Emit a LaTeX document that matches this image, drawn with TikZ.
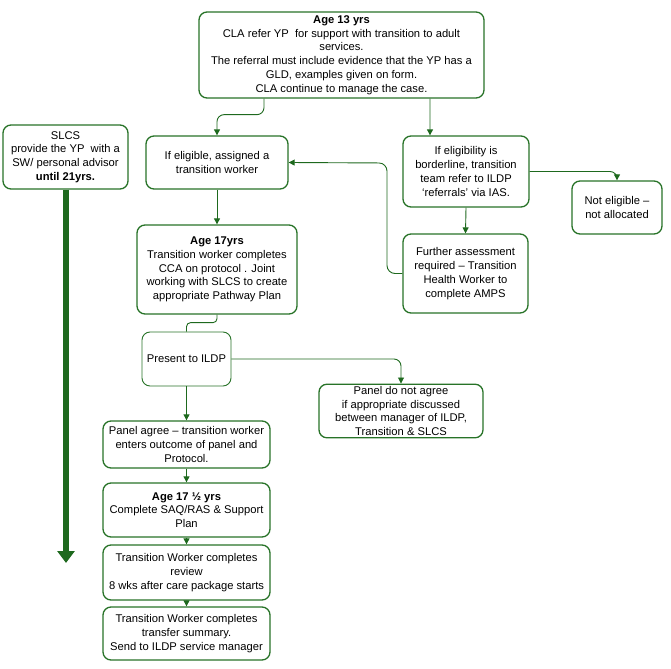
\documentclass[tikz,border=0pt]{standalone}
\usepackage{fontspec}
\setmainfont{Liberation Sans}
\usetikzlibrary{arrows.meta}
\definecolor{boxgreen}{RGB}{40,115,40}
\definecolor{arrgreen}{RGB}{30,105,30}
\tikzset{
  box/.style={draw=boxgreen, line width=1.3bp, rounded corners=8bp, fill=white,
    align=center, inner sep=2bp, font=\fontsize{11.2bp}{13.8bp}\selectfont},
  arr/.style={draw=arrgreen, line width=0.9bp, -{Triangle[width=6bp,length=6bp]}},
  plain/.style={draw=arrgreen, line width=0.9bp},
}
\begin{document}
\begin{tikzpicture}[x=1bp,y=-1bp]
\useasboundingbox (0,0) rectangle (671,669);
\node[box, minimum width=285bp, minimum height=86bp] (top) at (341.5,55)
 {\textbf{Age 13 yrs}\\CLA refer YP\ \ for support with transition to adult\\services.\\The referral must include evidence that the YP has a\\GLD, examples given on form.\\CLA continue to manage the case.};
\node[box, minimum width=125bp, minimum height=64bp] (slcs) at (65.5,157)
 {SLCS\\provide the YP\ \ with a\\SW/ personal advisor\\\textbf{until 21yrs.}};
\node[box, minimum width=142bp, minimum height=53bp] (elig) at (217,162.5)
 {If eligible, assigned a\\transition worker};
\node[box, minimum width=126bp, minimum height=71bp] (border) at (466,171.5)
 {If eligibility is\\borderline, transition\\team refer to ILDP\\`referrals' via IAS.};
\node[box, minimum width=90bp, minimum height=53bp] (noteli) at (617,207.5)
 {Not eligible --\\not allocated};
\node[box, minimum width=125bp, minimum height=79bp] (further) at (465.5,273.5)
 {Further assessment\\required -- Transition\\Health Worker to\\complete AMPS};
\node[box, minimum width=160bp, minimum height=89bp] (age17) at (217,269.5)
 {\textbf{Age 17yrs}\\Transition worker completes\\CCA on protocol . Joint\\working with SLCS to create\\appropriate Pathway Plan};
\node[box, line width=0.9bp, minimum width=89bp, minimum height=54bp] (present) at (186.5,359)
 {Present to ILDP};
\node[box, minimum width=164bp, minimum height=52bp] (pnot) at (401,411)
 {Panel do not agree\\if appropriate discussed\\between manager of ILDP,\\Transition \& SLCS};
\node[box, minimum width=167bp, minimum height=47bp] (pagree) at (186.5,444.5)
 {Panel agree -- transition worker\\enters outcome of panel and\\Protocol.};
\node[box, minimum width=167bp, minimum height=54bp] (age175) at (186.5,510)
 {\textbf{Age 17 ½ yrs}\\Complete SAQ/RAS \& Support\\Plan};
\node[box, minimum width=167bp, minimum height=55bp] (review) at (186.5,572.5)
 {Transition Worker completes\\review\\8 wks after care package starts};
\node[box, minimum width=167bp, minimum height=53bp] (transfer) at (186.5,633.5)
 {Transition Worker completes\\transfer summary.\\Send to ILDP service manager};
\coordinate (slcsend) at (66,563);
% connectors
\draw[arr, rounded corners=7bp] ([xshift=-77.5bp]top.south) -- ++(0,16) -| (elig.north);
\draw[arr] ([xshift=88.5bp]top.south) -- ([xshift=-36bp]border.north);
\draw[arr, rounded corners=7bp] (border.east) -| (noteli.north);
\draw[arr] (border.south) -- (further.north);
\draw[arr, rounded corners=8bp] (further.west) -| (387,163) -- (elig.east);
\draw[arr] (elig.south) -- (age17.north);
\draw[plain, rounded corners=4bp] (age17.south) -- ++(0,8) -| (present.north);
\draw[arr, rounded corners=7bp] (present.east) -| (pnot.north);
\draw[arr] (present.south) -- (pagree.north);
\draw[arr] (pagree.south) -- (age175.north);
\draw[arr] (age175.south) -- (review.north);
\draw[arr] (review.south) -- (transfer.north);
\draw[draw=arrgreen, line width=6bp, -{Triangle[width=17bp,length=12bp]}] (slcs.south -| slcsend) -- (slcsend);
\end{tikzpicture}
\end{document}
